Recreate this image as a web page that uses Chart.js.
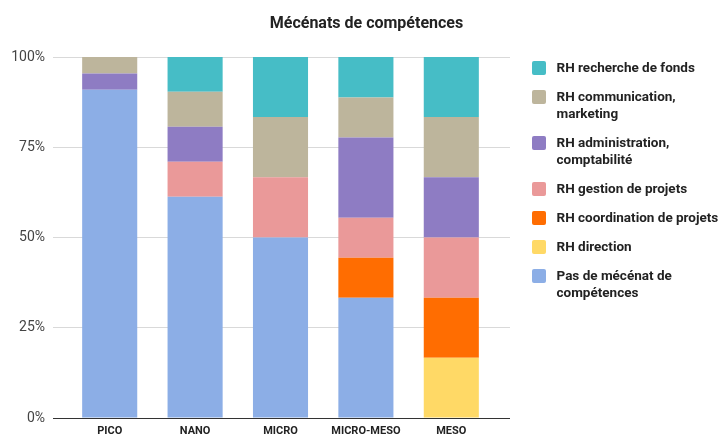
<!DOCTYPE html>
<html lang="fr">
<head>
<meta charset="utf-8">
<title>Mécénats de compétences</title>
<script src="https://cdn.jsdelivr.net/npm/chart.js@4.4.1/dist/chart.umd.min.js"></script>
<style>
  html, body { margin: 0; padding: 0; background: #fff; }
  #wrap { position: relative; width: 723px; height: 436px; overflow: hidden; font-family: Roboto, "Noto Sans", sans-serif; }
  #chart { position: absolute; left: 0; top: 0; }
  #title {
    position: absolute; left: 0; width: 733px; top: 13px;
    text-align: center; font-size: 16px; font-weight: 700; color: #222; line-height: 20px;
  }
  #legend { position: absolute; left: 532px; top: 59px; width: 191px; }
  .item { display: flex; align-items: flex-start; margin-bottom: 12px; }
  .swatch { flex: 0 0 14px; width: 14px; height: 14px; margin-top: 1.5px; margin-right: 10.5px; border-radius: 2px; }
  .label { font-size: 13.5px; font-weight: 700; color: #222; line-height: 17px; max-width: 167px; }
</style>
</head>
<body>
<div id="wrap">
  <canvas id="chart" width="723" height="436"></canvas>
  <div id="title">Mécénats de compétences</div>
  <div id="legend"></div>
</div>
<script>
// Categories (taille de structure)
const categories = ["PICO", "NANO", "MICRO", "MICRO-MESO", "MESO"];

// Part de chaque type de mécénat, en % par catégorie
const pasMecenat       = [90.9, 61.3, 50.0, 33.3, 0];
const rhDirection      = [0, 0, 0, 0, 16.7];
const rhCoordination   = [0, 0, 0, 11.1, 16.6];
const rhGestion        = [0, 9.7, 16.7, 11.1, 16.7];
const rhAdministration = [4.5, 9.7, 0, 22.2, 16.7];
const rhCommunication  = [4.6, 9.7, 16.7, 11.1, 16.7];
const rhRecherche      = [0, 9.6, 16.6, 11.2, 16.6];

const yTicks = [0, 25, 50, 75, 100];

// bottom of the stack first
const series = [
  { label: "Pas de mécénat de compétences", data: pasMecenat, color: "#8caee6" },
  { label: "RH direction", data: rhDirection, color: "#ffd966" },
  { label: "RH coordination de projets", data: rhCoordination, color: "#ff6d01" },
  { label: "RH gestion de projets", data: rhGestion, color: "#ea9999" },
  { label: "RH administration, comptabilité", data: rhAdministration, color: "#8e7cc3" },
  { label: "RH communication, marketing", data: rhCommunication, color: "#bdb59c" },
  { label: "RH recherche de fonds", data: rhRecherche, color: "#46bdc6" },
];

const gridColor = (c) => (c.tick && c.tick.value === 0 ? "#333333" : "#d9d9d9");

new Chart(document.getElementById("chart"), {
  type: "bar",
  data: {
    labels: categories,
    datasets: series.map((s) => ({
      label: s.label,
      data: s.data,
      backgroundColor: s.color,
      borderWidth: 0,
      categoryPercentage: 1,
      barPercentage: 0.645,
    })),
  },
  options: {
    responsive: false,
    animation: false,
    layout: { padding: { top: 57, right: 213, bottom: 0, left: 0 } },
    plugins: {
      legend: { display: false },
      tooltip: { enabled: false },
    },
    scales: {
      x: {
        stacked: true,
        grid: { display: false, drawTicks: false, tickLength: 0 },
        border: { display: false },
        ticks: {
          color: "#222",
          padding: 7,
          font: { family: "Roboto", size: 11, weight: "bold", lineHeight: 1.2 },
        },
        afterFit: (scale) => { scale.height = 18; },
      },
      y: {
        stacked: true,
        min: 0,
        max: 100,
        afterBuildTicks: (scale) => { scale.ticks = yTicks.map((v) => ({ value: v })); },
        border: { display: false },
        grid: { color: gridColor, tickColor: gridColor, tickLength: 14, lineWidth: 1 },
        ticks: {
          color: "#444",
          padding: 8,
          font: { family: "Roboto", size: 14 },
          callback: (v) => v + "%",
        },
        afterFit: (scale) => { scale.width = 67; },
      },
      // right-hand axis only extends the gridlines past the bars
      y2: {
        position: "right",
        min: 0,
        max: 100,
        afterBuildTicks: (scale) => { scale.ticks = yTicks.map((v) => ({ value: v })); },
        border: { display: false },
        grid: { drawOnChartArea: false, color: gridColor, tickColor: gridColor, tickLength: 16 },
        ticks: { display: false },
      },
    },
  },
});

// legend, top of the stack first
const legend = document.getElementById("legend");
series.slice().reverse().forEach((s) => {
  const item = document.createElement("div");
  item.className = "item";
  const sw = document.createElement("div");
  sw.className = "swatch";
  sw.style.background = s.color;
  const txt = document.createElement("div");
  txt.className = "label";
  txt.textContent = s.label;
  item.appendChild(sw);
  item.appendChild(txt);
  legend.appendChild(item);
});
</script>
</body>
</html>
